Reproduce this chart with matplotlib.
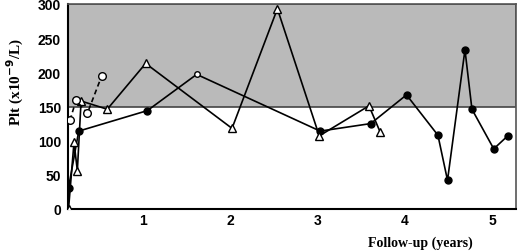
import matplotlib
matplotlib.use("Agg")
import matplotlib.pyplot as plt

# Filled-circle series (one open point at ~1.6 y)
circ_x = [0.146, 0.263, 1.05, 1.615, 3.03, 3.61, 4.02, 4.38, 4.49, 4.69, 4.77, 5.02, 5.18]
circ_y = [31, 114, 144, 197, 114, 125, 167, 108, 42, 233, 146, 88, 107]
circ_open = [False, False, False, True, False, False, False, False, False, False, False, False, False]

# Open-triangle series
tri_x = [0.146, 0.209, 0.247, 0.29, 0.59, 1.03, 2.02, 2.54, 3.02, 3.59, 3.72]
tri_y = [0, 98, 56, 158, 146, 213, 118, 293, 107, 151, 112]

# Open-circle dashed series
oc_x = [0.163, 0.232, 0.362, 0.527]
oc_y = [130, 159, 140, 195]

normal_low, normal_high = 150, 300
x_ticks = [1, 2, 3, 4, 5]
y_ticks = [0, 50, 100, 150, 200, 250, 300]

fig = plt.figure(figsize=(5.2, 2.53), dpi=100)
ax = fig.add_axes([68/520, 43/253, 448/520, 205/253])

ax.axhspan(normal_low, normal_high, facecolor="#bababa", edgecolor="#444444", linewidth=1.2, zorder=0)

lw = 1.2
ax.plot(circ_x, circ_y, color="black", lw=lw, zorder=2)
fx = [x for x, o in zip(circ_x, circ_open) if not o]
fy = [y for y, o in zip(circ_y, circ_open) if not o]
ox = [x for x, o in zip(circ_x, circ_open) if o]
oy = [y for y, o in zip(circ_y, circ_open) if o]
ax.plot(fx, fy, ls="none", marker="o", ms=5, mfc="black", mec="black", zorder=3)
ax.plot(ox, oy, ls="none", marker="o", ms=4, mfc="white", mec="black", mew=1, zorder=3)

ax.plot(tri_x, tri_y, color="black", lw=lw, marker="^", ms=5.5, mfc="white", mec="black", mew=1, zorder=3)
ax.plot(oc_x, oc_y, color="black", lw=lw, ls=(0, (3, 2)), marker="o", ms=5.5, mfc="white", mec="black", mew=1, zorder=3)

ax.set_xlim(0.14, 5.275)
ax.set_ylim(0, 300)
ax.set_xticks(x_ticks)
ax.set_yticks(y_ticks)
ax.tick_params(axis="x", length=0, pad=3)
ax.tick_params(axis="y", length=0, pad=5)
for lab in ax.get_xticklabels() + ax.get_yticklabels():
    lab.set_fontfamily("Liberation Sans")
    lab.set_fontweight("bold")
    lab.set_fontsize(10)

for s in ["top", "right"]:
    ax.spines[s].set_color("#555555")
    ax.spines[s].set_linewidth(1.2)
for s in ["left", "bottom"]:
    ax.spines[s].set_color("black")
    ax.spines[s].set_linewidth(1.5)

fig.text(15/520, 1 - 82/253, r"Plt (x10$^{\mathbf{-9}}$/L)", rotation=90, ha="center", va="center",
         fontfamily="Liberation Serif", fontweight="bold", fontsize=11)
fig.text(420/520, 1 - 243/253, "Follow-up (years)", ha="center", va="center",
         fontfamily="Liberation Serif", fontweight="bold", fontsize=10)

fig.savefig("out.png", dpi=100)
